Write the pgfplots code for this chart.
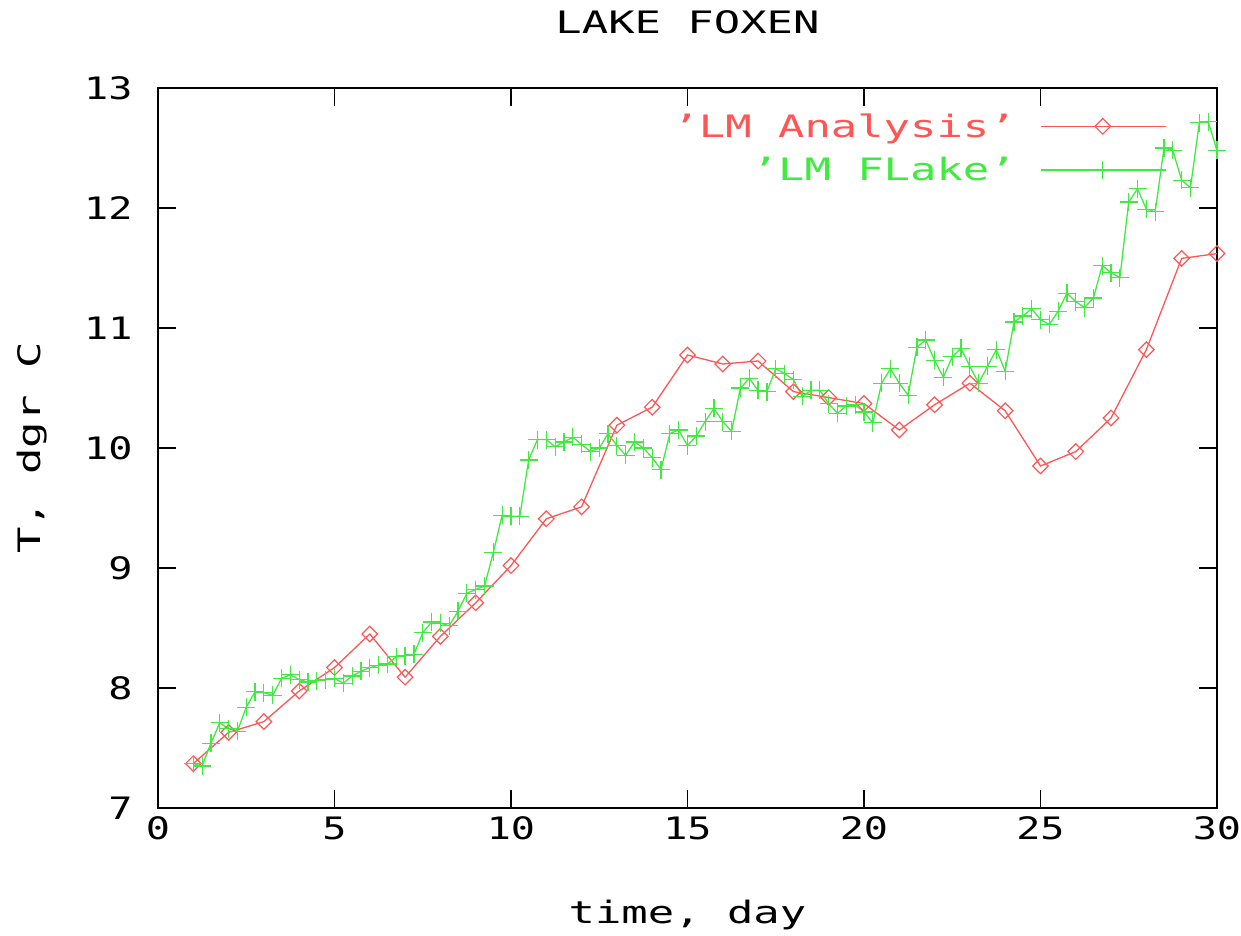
\documentclass[border=0pt]{standalone}
\usepackage{fontspec}
\usepackage{pgfplots}
\pgfplotsset{compat=1.18}
\newfontfamily\gp[FakeStretch=1.3]{DejaVu Sans Mono}
\newfontfamily\gpt[FakeStretch=1.42]{DejaVu Sans Mono}
\newcommand{\gpf}{\gp\fontsize{31}{37}\selectfont}
\newcommand{\gtf}{\gpt\fontsize{31}{37}\selectfont}
\definecolor{lmred}{RGB}{255,85,85}
\definecolor{lmgreen}{RGB}{64,235,64}
\begin{document}
\begin{tikzpicture}
\path[use as bounding box] (-158bp,-128bp) rectangle (1083bp,808bp);
\begin{axis}[
  at={(0bp,0bp)}, anchor=south west,
  scale only axis, width=1059bp, height=720bp,
  xmin=0, xmax=30, ymin=7, ymax=13,
  xtick={0,5,...,30}, ytick={7,8,...,13},
  tick align=inside, tick pos=both,
  major tick length=18bp,
  axis line style={line width=1.6bp, black},
  every tick/.style={line width=1.6bp, black},
  tick label style={font=\gpf, black},
  /pgf/number format/assume math mode=true,
  xticklabel style={yshift=-5bp},
  yticklabel style={xshift=-22bp},
  clip=false,
  legend style={draw=none, fill=none, font=\gtf, at={(0.9556,0.97)}, anchor=north east, row sep=14.5bp, column sep=22bp},
  legend cell align=right,
  legend plot pos=right,
]
\addplot[color=lmred, line width=1.3bp, mark=square, mark size=5.5bp, mark options={rotate=45, line width=1.2bp},
  legend image code/.code={\draw[lmred, line width=1.6bp] (0bp,0bp) -- (125bp,0bp);
    \draw[lmred, line width=1.2bp] (62bp,7.8bp) -- (69.8bp,0bp) -- (62bp,-7.8bp) -- (54.2bp,0bp) -- cycle;}] coordinates {
(1,7.37) (2,7.63) (3,7.72) (4,7.975) (5,8.17) (6,8.45) (7,8.09) (8,8.43) (9,8.71) (10,9.02)
(11,9.41) (12,9.51) (13,10.19) (14,10.34) (15,10.775) (16,10.70) (17,10.725) (18,10.47) (19,10.42) (20,10.37)
(21,10.15) (22,10.36) (23,10.54) (24,10.31) (25,9.85) (26,9.97) (27,10.25) (28,10.82) (29,11.58) (30,11.62)
};
\addlegendentry{\textcolor{lmred}{’LM Analysis’}}
\addplot[color=lmgreen, line width=1.3bp, mark=+, mark size=9bp, mark options={line width=1.2bp},
  legend image code/.code={\draw[lmgreen, line width=2bp] (0bp,0bp) -- (125bp,0bp);
    \draw[lmgreen, line width=1.4bp] (62bp,9bp) -- (62bp,-9bp);}] coordinates {
(1.0,7.37) (1.25,7.35) (1.5,7.54) (1.75,7.71) (2.0,7.66) (2.25,7.64) (2.5,7.84) (2.75,7.97)
(3.0,7.96) (3.25,7.94) (3.5,8.08) (3.75,8.11) (4.0,8.07) (4.25,8.05) (4.5,8.06) (4.75,8.07)
(5.0,8.08) (5.25,8.04) (5.5,8.10) (5.75,8.14) (6.0,8.17) (6.25,8.19) (6.5,8.20) (6.75,8.26)
(7.0,8.27) (7.25,8.28) (7.5,8.46) (7.75,8.55) (8.0,8.54) (8.25,8.52) (8.5,8.64) (8.75,8.79)
(9.0,8.82) (9.25,8.85) (9.5,9.13) (9.75,9.44) (10.0,9.43) (10.25,9.43) (10.5,9.90) (10.75,10.07)
(11.0,10.07) (11.25,10.01) (11.5,10.05) (11.75,10.09) (12.0,10.03) (12.25,9.97) (12.5,10.00) (12.75,10.12)
(13.0,10.02) (13.25,9.94) (13.5,10.05) (13.75,10.00) (14.0,9.92) (14.25,9.82) (14.5,10.12) (14.75,10.15)
(15.0,10.02) (15.25,10.10) (15.5,10.22) (15.75,10.33) (16.0,10.22) (16.25,10.14) (16.5,10.50) (16.75,10.58)
(17.0,10.48) (17.25,10.47) (17.5,10.66) (17.75,10.62) (18.0,10.57) (18.25,10.43) (18.5,10.48) (18.75,10.48)
(19.0,10.37) (19.25,10.29) (19.5,10.35) (19.75,10.36) (20.0,10.30) (20.25,10.21) (20.5,10.54) (20.75,10.66)
(21.0,10.54) (21.25,10.44) (21.5,10.84) (21.75,10.90) (22.0,10.73) (22.25,10.59) (22.5,10.76) (22.75,10.83)
(23.0,10.68) (23.25,10.54) (23.5,10.68) (23.75,10.82) (24.0,10.64) (24.25,11.05) (24.5,11.10) (24.75,11.16)
(25.0,11.07) (25.25,11.03) (25.5,11.14) (25.75,11.29) (26.0,11.22) (26.25,11.17) (26.5,11.25) (26.75,11.52)
(27.0,11.46) (27.25,11.42) (27.5,12.05) (27.75,12.16) (28.0,11.99) (28.25,11.97) (28.5,12.50) (28.75,12.48)
(29.0,12.23) (29.25,12.17) (29.5,12.71) (29.75,12.72) (30.0,12.48)
};
\addlegendentry{\textcolor{lmgreen}{’LM FLake’}}
\end{axis}
\node[font=\gtf, anchor=center] at (529.5bp,786bp) {LAKE FOXEN};
\node[font=\gtf, anchor=center] at (529.5bp,-107bp) {time, day};
\node[font=\gtf, anchor=center, rotate=90] at (-126bp,360bp) {T, dgr C};
\end{tikzpicture}
\end{document}
